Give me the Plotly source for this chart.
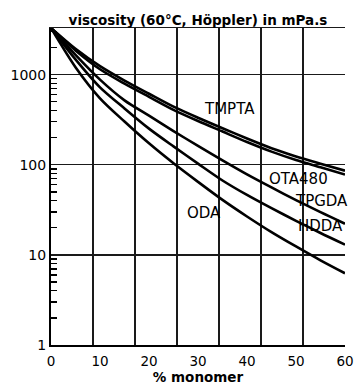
import math
import plotly.graph_objects as go

# ---- data ----
monomer_pct = [0, 5, 10, 15, 20, 25, 30, 35, 40, 45, 50, 55, 60]
tmpta  = [3300, 1940, 1245, 861, 615, 442, 333, 255, 196, 153, 124, 103, 86]
ota480 = [3300, 1860, 1150, 796, 568, 407, 306, 234, 179, 140, 113, 94, 78]
tpgda  = [3300, 1660, 881, 519, 351, 237, 162, 112, 78.3, 56.1, 40.6, 29.8, 22.2]
hdda   = [3300, 1480, 724, 422, 252, 160, 103, 67, 46.3, 33.0, 23.9, 17.5, 13]
oda    = [3300, 1212, 547, 302, 173, 104, 64.7, 40.8, 26.7, 17.9, 12.4, 8.7, 6.25]

series_names = ["TMPTA", "OTA480", "TPGDA", "HDDA", "ODA"]
series_vals = [tmpta, ota480, tpgda, hdda, oda]

# curve label positions (x in %, y in mPa.s)
label_names = ["TMPTA", "OTA480", "TPGDA", "HDDA", "ODA"]
label_x = [36.5, 50.6, 55.2, 55.0, 31.2]
label_y = [416, 70.3, 39.6, 20.9, 29.4]

x_ticks = [0, 10, 20, 30, 40, 50, 60]
y_ticks = [1, 10, 100, 1000]
y_ticktext = ["1", "10", "100", "1000"]
n_vgrid = 7
x_max = 60
y_max = 3300

FONT = "DejaVu Sans"
GRID = "#1a1a1a"

fig = go.Figure()
for name, vals in zip(series_names, series_vals):
    fig.add_trace(go.Scatter(
        x=monomer_pct, y=vals, mode="lines", name=name,
        line=dict(color="black", width=2.6, shape="spline", smoothing=0.8),
        showlegend=False, hoverinfo="skip"))

# dummy trace to bind the overlay grid axis
fig.add_trace(go.Scatter(x=[None], y=[None], xaxis="x2", showlegend=False))

for name, lx, ly in zip(label_names, label_x, label_y):
    fig.add_annotation(x=lx, y=math.log10(ly), text=name, showarrow=False,
                       font=dict(family=FONT, size=15, color="black"),
                       xanchor="center", yanchor="middle")

minor_vals = [m * 10 ** d for d in range(0, 4) for m in range(2, 10) if m * 10 ** d < y_max]

fig.update_layout(
    template="none",
    width=355, height=385,
    margin=dict(l=51, r=10, t=28, b=40, autoexpand=False),
    paper_bgcolor="white", plot_bgcolor="white",
    showlegend=False,
    title=dict(text="viscosity (60°C, Höppler) in mPa.s",
               font=dict(family=FONT, size=13.5, color="black", weight="bold"),
               x=0.5, xref="paper", xanchor="center",
               y=1 - 20.5 / 385, yref="container", yanchor="middle"),
    xaxis=dict(range=[0, x_max], tickvals=x_ticks, ticks="outside", ticklen=3,
               tickcolor="rgba(0,0,0,0)", showgrid=False,
               automargin=False,
               zeroline=False, showline=True, linewidth=2, linecolor="black",
               tickfont=dict(family=FONT, size=13.5, color="black"),
               title=dict(text="% monomer", standoff=5,
                          font=dict(family=FONT, size=13.5, color="black", weight="bold"))),
    xaxis2=dict(range=[0, x_max], overlaying="x", side="top", anchor="y",
                automargin=False,
                tickvals=[x_max / n_vgrid * i for i in range(n_vgrid + 1)],
                showticklabels=False, ticks="", showgrid=True,
                gridcolor=GRID, gridwidth=1.3, zeroline=False,
                showline=True, linewidth=1.3, linecolor=GRID),
    yaxis=dict(type="log", range=[0, math.log10(y_max)], tickvals=y_ticks,
               automargin=False,
               ticktext=y_ticktext, ticks="", showgrid=True, gridcolor=GRID,
               gridwidth=1.3, zeroline=False, showline=True, linewidth=2,
               linecolor="black",
               tickfont=dict(family=FONT, size=14, color="black"),
               minor=dict(tickmode="array", tickvals=minor_vals, ticks="inside",
                          ticklen=6, tickwidth=1.3, tickcolor="black", showgrid=False)),
)

fig.write_html("out.html",
               config={"displayModeBar": False, "staticPlot": True},
               post_script="document.body.style.margin='0';document.body.style.overflow='hidden';")
